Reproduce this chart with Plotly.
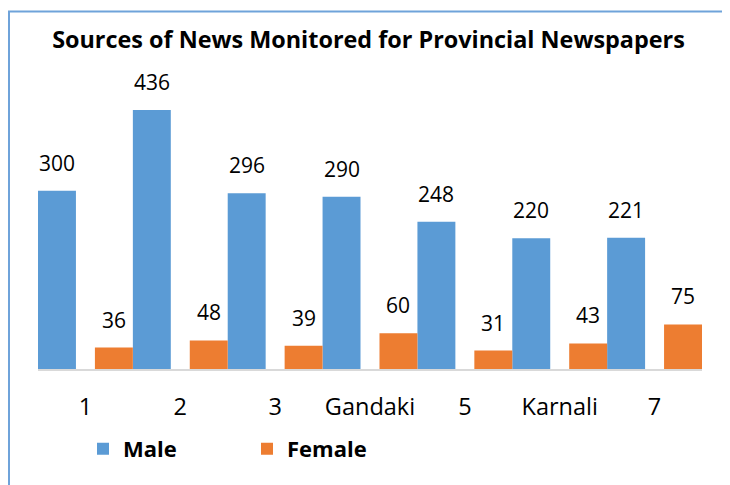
import plotly.graph_objects as go

categories = ["1", "2", "3", "Gandaki", "5", "Karnali", "7"]
male = [300, 436, 296, 290, 248, 220, 221]
female = [36, 48, 39, 60, 31, 43, 75]

BLUE = "#5B9BD5"
ORANGE = "#ED7D31"
FONT = "Open Sans"

# the page body adds an 8px margin, so the figure is laid out 8px smaller
OFF = 8
W, H = 730 - OFF, 485 - OFF
ml, mr, mt, mb = 30, 28, 63.5, 116
pw, ph = W - ml - mr, H - mt - mb


def px_x(px):
    return (px - OFF - ml) / pw


def px_y(py):
    return (H - mb - (py - OFF)) / ph


fig = go.Figure()
fig.add_trace(go.Bar(name="<b>Male</b>", x=categories, y=male, marker_color=BLUE,
                     offset=-0.5, width=0.4, marker_line_width=0))
fig.add_trace(go.Bar(name="<b>Female</b>", x=categories, y=female, marker_color=ORANGE,
                     offset=0.1, width=0.4, marker_line_width=0))

annotations = []
for i, (m, f) in enumerate(zip(male, female)):
    for xx, v in ((i - 0.3, m), (i + 0.3, f)):
        annotations.append(dict(x=xx, y=v, xref="x", yref="y", text=str(v),
                                showarrow=False, yanchor="bottom", yshift=12,
                                font=dict(family=FONT, size=21, color="#000000")))

fig.update_layout(
    width=W, height=H,
    margin=dict(l=ml, r=mr, t=mt, b=mb, pad=0),
    paper_bgcolor="white", plot_bgcolor="white",
    barmode="overlay",
    title=dict(text="<b>Sources of News Monitored for Provincial Newspapers</b>",
               x=(368.5 - OFF) / W, xref="container", xanchor="center",
               y=1 - (40 - OFF) / H, yref="container", yanchor="middle",
               font=dict(family=FONT, size=23.4, color="#000000")),
    xaxis=dict(type="category", range=[-0.5, 6.5], showgrid=False,
               showline=True, linecolor="#D9D9D9", linewidth=2,
               ticks="", ticklabelstandoff=16,
               tickfont=dict(family=FONT, size=23.5, color="#000000")),
    yaxis=dict(range=[0, 500], visible=False, showgrid=False, zeroline=False),
    legend=dict(orientation="h", x=px_x(83), xanchor="left",
                y=px_y(449), yanchor="middle", entrywidth=119, entrywidthmode="pixels",
                font=dict(family=FONT, size=22, color="#000000"),
                bgcolor="rgba(0,0,0,0)"),
    showlegend=True,
    annotations=annotations,
    shapes=[dict(type="rect", xref="paper", yref="paper",
                 x0=px_x(9), x1=px_x(729), y0=px_y(520), y1=px_y(11),
                 line=dict(color="#6FA3DA", width=2), fillcolor="rgba(0,0,0,0)",
                 layer="below")],
)

fig.write_html("out.html")
